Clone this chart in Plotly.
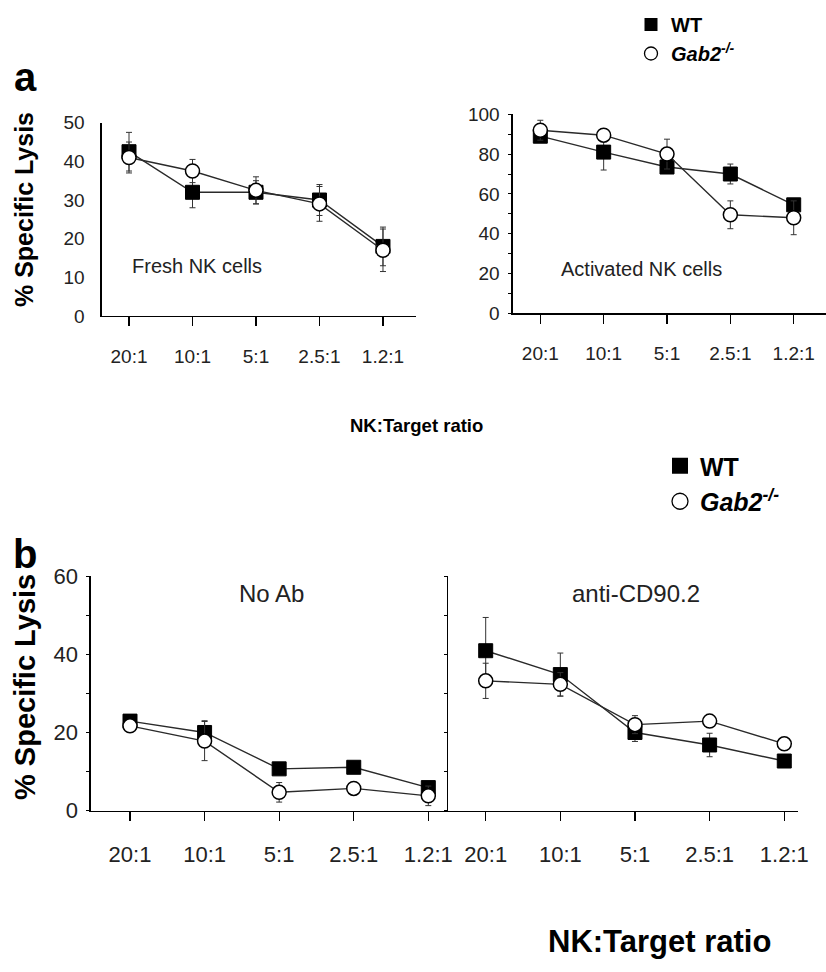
import plotly.graph_objects as go

# ---------------- data ----------------
ratios = ["20:1", "10:1", "5:1", "2.5:1", "1.2:1"]

fresh_wt = [42.5, 32, 32, 30, 18]
fresh_wt_err = [5, 4, 3, 4, 5]
fresh_gab2 = [41, 37.5, 32.5, 29, 17]
fresh_gab2_err = [4, 3, 3.5, 4.5, 5.5]

act_wt = [89, 81, 73.5, 70, 54.5]
act_wt_err = [3, 9, 3, 5, 3]
act_gab2 = [92, 89.5, 80, 49.5, 48]
act_gab2_err = [5, 3, 7.5, 7, 8.5]

noab_wt = [22.9, 20, 10.7, 11.1, 5.9]
noab_wt_err = [1, 3, 1, 1, 1]
noab_gab2 = [21.7, 17.8, 4.7, 5.7, 3.8]
noab_gab2_err = [1, 5, 2.5, 1, 2.5]

cd90_wt = [40.9, 34.8, 20, 16.8, 12.7]
cd90_wt_err = [8.5, 5.5, 2.3, 3, 1]
cd90_gab2 = [33.2, 32.3, 22, 22.9, 17.1]
cd90_gab2_err = [4.5, 3, 2.3, 1, 1]

# ---------------- helpers ----------------
W, H = 826, 972
FONT = "Liberation Sans, Arial, Helvetica, sans-serif"


def px(x):
    return x / W


def py(y):
    return 1 - y / H


LINE = "#2a2a2a"

fig = go.Figure()


def add_pair(xa, ya, wt, wt_err, gab, gab_err, msize):
    fig.add_trace(go.Scatter(
        x=ratios, y=wt, mode="lines+markers", xaxis=xa, yaxis=ya,
        line=dict(color=LINE, width=1.4),
        marker=dict(symbol="square", size=msize, color="black",
                    line=dict(color="black", width=1)),
        error_y=dict(type="data", array=wt_err, visible=True,
                     color="#333", thickness=1, width=3),
        showlegend=False, name="WT"))
    fig.add_trace(go.Scatter(
        x=ratios, y=gab, mode="lines+markers", xaxis=xa, yaxis=ya,
        line=dict(color=LINE, width=1.4),
        marker=dict(symbol="circle", size=msize, color="white",
                    line=dict(color="black", width=1.5)),
        error_y=dict(type="data", array=gab_err, visible=True,
                     color="#333", thickness=1, width=3),
        showlegend=False, name="Gab2-/-"))


add_pair("x", "y", fresh_wt, fresh_wt_err, fresh_gab2, fresh_gab2_err, 14)
add_pair("x2", "y2", act_wt, act_wt_err, act_gab2, act_gab2_err, 14)
add_pair("x3", "y3", noab_wt, noab_wt_err, noab_gab2, noab_gab2_err, 14)
add_pair("x4", "y4", cd90_wt, cd90_wt_err, cd90_gab2, cd90_gab2_err, 14)

# legend-only entries
gab_label = "<b><i>Gab2<sup>-/-</sup></i></b>"
for lg, ms in (("legend", 13), ("legend2", 16)):
    fig.add_trace(go.Scatter(x=[None], y=[None], mode="markers", name="<b>WT</b>",
                             marker=dict(symbol="square", size=ms, color="black"),
                             legend=lg, showlegend=True, xaxis="x", yaxis="y"))
    fig.add_trace(go.Scatter(x=[None], y=[None], mode="markers", name=gab_label,
                             marker=dict(symbol="circle", size=ms, color="white",
                                         line=dict(color="black", width=1.3)),
                             legend=lg, showlegend=True, xaxis="x", yaxis="y"))

xcommon = dict(type="category", showline=True, linecolor="black", linewidth=1.3,
               ticks="outside", ticklen=9, tickwidth=1.3, tickcolor="black",
               showgrid=False, zeroline=False, fixedrange=True, automargin=False)
ycommon = dict(showline=True, linecolor="black", linewidth=1.3,
               showgrid=False, zeroline=False, tickcolor="black", fixedrange=True,
               automargin=False)

fa = dict(family=FONT, size=19, color="#222")
fb = dict(family=FONT, size=22, color="#222")

fig.update_layout(
    template="none",
    width=W, height=H, margin=dict(l=0, r=0, t=0, b=0, pad=0, autoexpand=False),
    paper_bgcolor="white", plot_bgcolor="rgba(0,0,0,0)",
    font=dict(family=FONT, color="black"),
    hovermode=False,
    # panel a left
    xaxis=dict(xcommon, domain=[px(101.7), px(416)], range=[-0.43, 4.52],
               anchor="y", tickfont=fa, ticklabelstandoff=14),
    yaxis=dict(ycommon, domain=[py(316), py(122.7)], range=[0, 50], dtick=10,
               ticks="", anchor="x", tickfont=fa, ticklabelstandoff=12),
    # panel a right
    xaxis2=dict(xcommon, domain=[px(512.7), 1.0], range=[-0.436, 4.51],
                anchor="y2", tickfont=fa, ticklabelstandoff=14),
    yaxis2=dict(ycommon, domain=[py(313.3), py(114.3)], range=[0, 100], dtick=20,
                ticks="outside", ticklen=3, anchor="x2", tickfont=fa,
                ticklabelstandoff=5,
                minor=dict(dtick=10, ticks="outside", ticklen=3, tickcolor="black")),
    # panel b left
    xaxis3=dict(xcommon, domain=[px(90.7), px(448.3)], range=[-0.527, 4.268],
                anchor="y3", tickfont=fb, ticklabelstandoff=15),
    yaxis3=dict(ycommon, domain=[py(810.7), py(576)], range=[0, 60], dtick=20,
                ticks="outside", ticklen=3, anchor="x3", tickfont=fb,
                ticklabelstandoff=4,
                minor=dict(dtick=10, ticks="outside", ticklen=3, tickcolor="black")),
    # panel b right
    xaxis4=dict(xcommon, domain=[px(448.3), px(798)], range=[-0.501, 4.184],
                anchor="y4", tickfont=fb, ticklabelstandoff=15),
    yaxis4=dict(ycommon, domain=[py(810.7), py(576)], range=[0, 60], dtick=10,
                ticks="outside", ticklen=3, anchor="x4", showticklabels=False),
    legend=dict(x=px(631), y=py(5), xanchor="left", yanchor="top",
                bgcolor="rgba(0,0,0,0)", borderwidth=0, tracegroupgap=0,
                font=dict(family=FONT, size=20, color="black"),
                itemsizing="trace"),
    legend2=dict(x=px(660), y=py(443), xanchor="left", yanchor="top",
                 bgcolor="rgba(0,0,0,0)", borderwidth=0, tracegroupgap=0,
                 font=dict(family=FONT, size=25, color="black"),
                 itemsizing="trace"),
)

ann = []


def text(x, y, s, size, bold=False, angle=0, color="black", xanchor="center"):
    ann.append(dict(x=px(x), y=py(y), xref="paper", yref="paper", text=(f"<b>{s}</b>" if bold else s),
                    showarrow=False, textangle=angle, xanchor=xanchor, yanchor="middle",
                    font=dict(family=FONT, size=size, color=color)))


text(25, 77, "a", 40, bold=True)
text(25, 554, "b", 40, bold=True)
text(24, 210, "% Specific Lysis", 25, bold=True, angle=-90)
text(25, 687, "% Specific Lysis", 29, bold=True, angle=-90)
text(196.5, 266, "Fresh NK cells", 20, color="#222")
text(641.5, 269, "Activated NK cells", 20, color="#222")
text(271.5, 593, "No Ab", 24, color="#222")
text(636, 593, "anti-CD90.2", 24, color="#222")
text(416, 426, "NK:Target ratio", 18.5, bold=True)
text(659, 941, "NK:Target ratio", 31, bold=True)

fig.update_layout(annotations=ann)

fig.write_html("out.html",
               config={"displayModeBar": False, "staticPlot": True},
               post_script="document.body.style.margin='0';document.body.style.padding='0';")
